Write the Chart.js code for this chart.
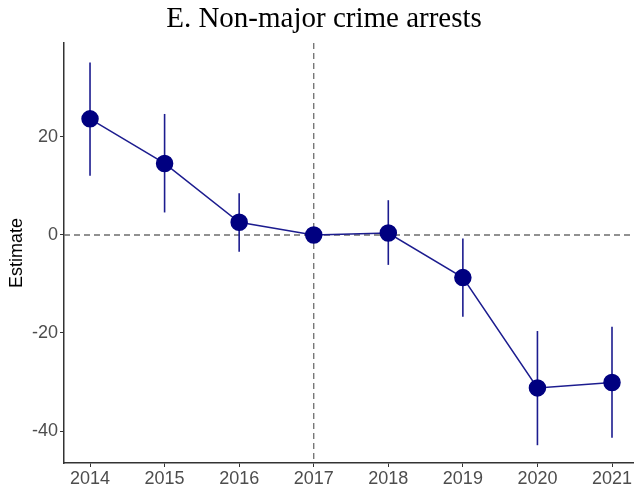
<!DOCTYPE html>
<html>
<head>
<meta charset="utf-8">
<script src="https://cdn.jsdelivr.net/npm/chart.js@4/dist/chart.umd.min.js"></script>
<style>
  html, body { margin: 0; padding: 0; background: #fff; overflow: hidden; }
  canvas { display: block; }
</style>
</head>
<body>
<canvas id="arrestChart" width="634" height="491"></canvas>
<script>
// event-study estimates, reference year 2017
var years = [2014, 2015, 2016, 2017, 2018, 2019, 2020, 2021];
var estimates = [23.7, 14.6, 2.6, 0, 0.4, -8.7, -31.2, -30.1];
var upper = [35.2, 24.7, 8.5, 0, 7.1, -0.7, -19.6, -18.7];
var lower = [12.1, 4.6, -3.4, 0, -6.1, -16.7, -42.9, -41.4];
var yTicks = [-40, -20, 0, 20];
var refYear = 2017;

var navy = '#000080';
var sans = '"Liberation Sans", Arial, sans-serif';

// vertical error bars plus the dashed reference lines
var extras = {
    id: 'extras',
    beforeDatasetsDraw: function(chart) {
        var ctx = chart.ctx;
        var x = chart.scales.x, y = chart.scales.y;
        var area = chart.chartArea;
        ctx.save();
        ctx.strokeStyle = '#6e6e6e';
        ctx.lineWidth = 1.3;
        ctx.setLineDash([6, 4]);
        ctx.beginPath();
        ctx.moveTo(area.left, y.getPixelForValue(0));
        ctx.lineTo(area.right, y.getPixelForValue(0));
        ctx.moveTo(x.getPixelForValue(refYear), area.top);
        ctx.lineTo(x.getPixelForValue(refYear), area.bottom);
        ctx.stroke();
        ctx.setLineDash([]);

        ctx.strokeStyle = '#1c1c8f';
        ctx.lineWidth = 1.6;
        years.forEach(function(yr, i) {
            if (upper[i] === lower[i]) return;
            var px = x.getPixelForValue(yr);
            ctx.beginPath();
            ctx.moveTo(px, y.getPixelForValue(upper[i]));
            ctx.lineTo(px, y.getPixelForValue(lower[i]));
            ctx.stroke();
        });
        ctx.restore();
    },
    afterDraw: function(chart) {
        var ctx = chart.ctx;
        ctx.save();
        ctx.fillStyle = '#000';
        ctx.font = '29px "Liberation Serif", "Times New Roman", serif';
        ctx.textAlign = 'center';
        ctx.textBaseline = 'middle';
        ctx.fillText('E. Non-major crime arrests', 324, 19);
        ctx.restore();
    }
};

new Chart('arrestChart', {
    type: 'line',
    data: {
        datasets: [{
            label: 'Estimate',
            data: years.map(function(yr, i) { return { x: yr, y: estimates[i] }; }),
            borderColor: '#1c1c8f',
            borderWidth: 1.5,
            backgroundColor: navy,
            pointBackgroundColor: navy,
            pointBorderColor: navy,
            pointRadius: 8,
            pointHoverRadius: 8,
            tension: 0,
            clip: false
        }]
    },
    options: {
        responsive: false,
        animation: false,
        layout: { autoPadding: false, padding: { top: 43, right: 0, left: 0, bottom: 0 } },
        plugins: {
            legend: { display: false },
            tooltip: { enabled: false }
        },
        scales: {
            x: {
                type: 'linear',
                min: 2013.651,
                max: 2021.295,
                afterBuildTicks: function(scale) {
                    scale.ticks = years.map(function(v) { return { value: v }; });
                },
                afterFit: function(scale) {
                    scale.height = 28;
                    scale.paddingLeft = 0;
                    scale.paddingRight = 0;
                },
                border: { display: true, color: '#333', width: 1.5 },
                grid: { display: true, drawOnChartArea: false, drawTicks: true, tickLength: 4, color: '#333' },
                ticks: {
                    color: '#4d4d4d',
                    padding: 1,
                    maxRotation: 0,
                    autoSkip: false,
                    font: { family: sans, size: 18 },
                    callback: function(v) { return String(v); }
                }
            },
            y: {
                min: -46.53,
                max: 39.18,
                afterBuildTicks: function(scale) {
                    scale.ticks = yTicks.map(function(v) { return { value: v }; });
                },
                afterFit: function(scale) {
                    scale.width = 64;
                    scale.paddingTop = 0;
                    scale.paddingBottom = 0;
                },
                border: { display: true, color: '#333', width: 1.5 },
                grid: { display: true, drawOnChartArea: false, drawTicks: true, tickLength: 4, color: '#333' },
                title: {
                    display: true,
                    text: 'Estimate',
                    color: '#000',
                    padding: { top: 6, bottom: 0 },
                    font: { family: sans, size: 18 }
                },
                ticks: {
                    color: '#4d4d4d',
                    padding: 2,
                    font: { family: sans, size: 18 }
                }
            }
        }
    },
    plugins: [extras]
});
</script>
</body>
</html>
